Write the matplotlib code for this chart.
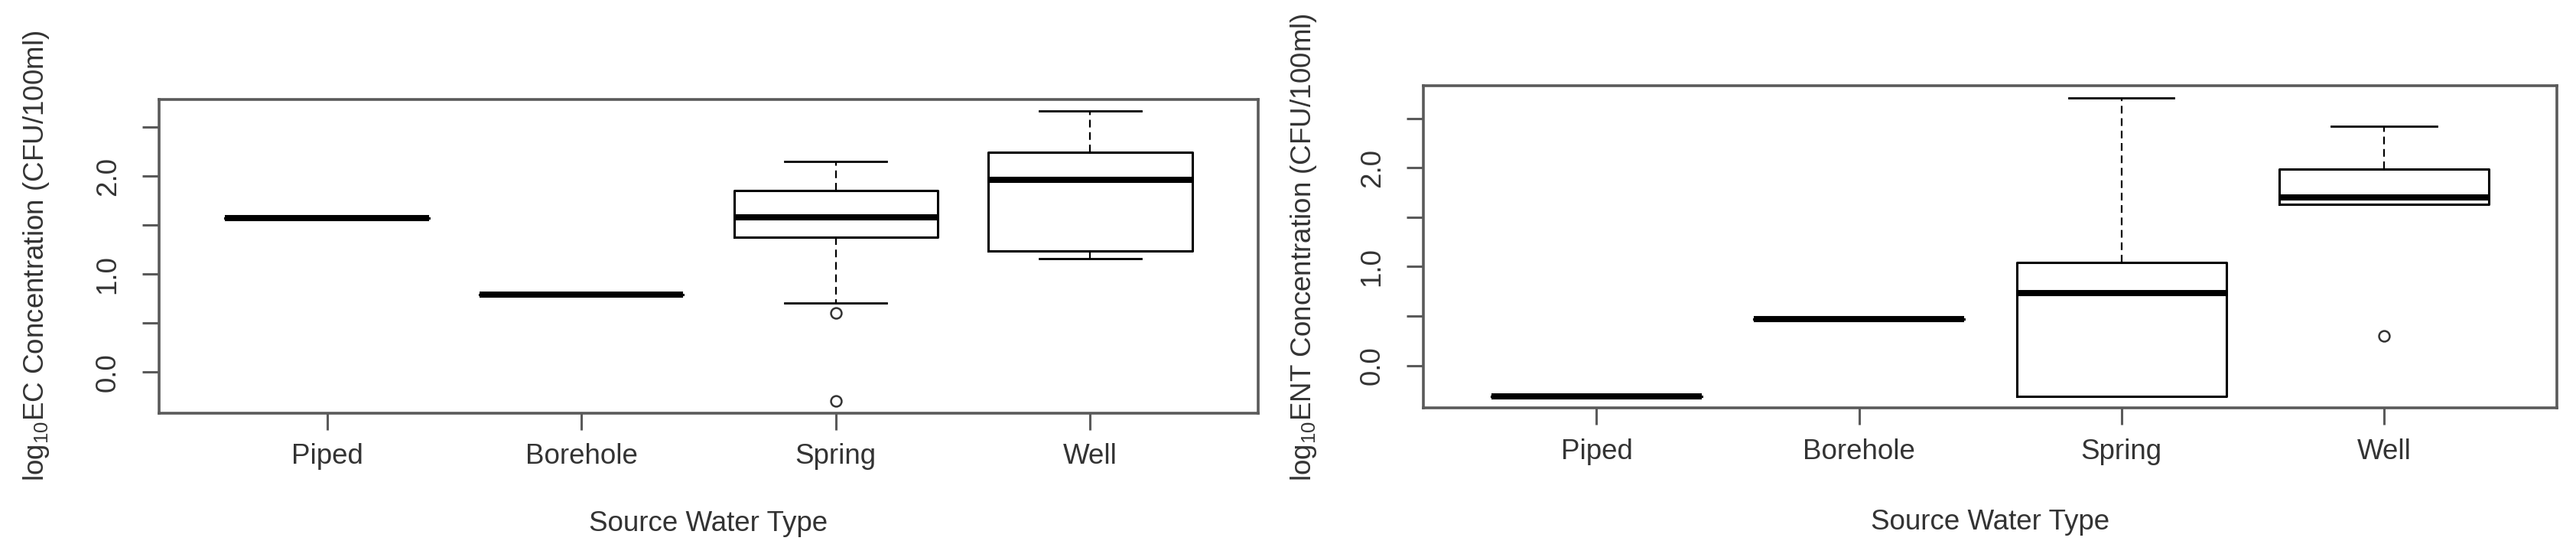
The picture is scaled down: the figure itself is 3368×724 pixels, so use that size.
import matplotlib
matplotlib.use('Agg')
import matplotlib.pyplot as plt

plt.rcParams['font.family'] = ['Liberation Sans', 'DejaVu Sans']
plt.rcParams['mathtext.default'] = 'regular'

categories = ['Piped', 'Borehole', 'Spring', 'Well']

# log10 E. coli (EC) concentration, CFU/100ml
ec_whislo = [1.574, 0.788, 0.705, 1.161]
ec_q1 = [1.574, 0.788, 1.374, 1.236]
ec_med = [1.574, 0.788, 1.582, 1.965]
ec_q3 = [1.574, 0.788, 1.855, 2.246]
ec_whishi = [1.574, 0.788, 2.147, 2.667]
ec_fliers = [[], [], [0.606, -0.297], []]

# log10 Enterococci (ENT) concentration, CFU/100ml
ent_whislo = [-0.31, 0.472, -0.31, 1.632]
ent_q1 = [-0.31, 0.472, -0.31, 1.632]
ent_med = [-0.31, 0.472, 0.729, 1.701]
ent_q3 = [-0.31, 0.472, 1.039, 1.985]
ent_whishi = [-0.31, 0.472, 2.707, 2.418]
ent_fliers = [[], [], [], [0.302]]

ytick_vals = [0.0, 0.5, 1.0, 1.5, 2.0, 2.5]
ytick_labels = ['0.0', '', '1.0', '', '2.0', '']
xlabel = 'Source Water Type'
ylabel_ec = 'log$_{10}$EC Concentration (CFU/100ml)'
ylabel_ent = 'log$_{10}$ENT Concentration (CFU/100ml)'

W, H = 3368, 724
fig = plt.figure(figsize=(W / 100, H / 100), dpi=100)

SPINE = '#5a5a5a'
TXT = '#333333'
FS = 26.5


def panel(rect, whislo, q1, med, q3, whishi, fliers, ylabel, ylab_x, xlab_y):
    ax = fig.add_axes(rect)
    stats = []
    for i, name in enumerate(categories):
        stats.append(dict(label=name, whislo=whislo[i], q1=q1[i], med=med[i],
                          q3=q3[i], whishi=whishi[i], fliers=fliers[i]))
    pos = list(range(1, len(categories) + 1))
    ax.bxp(stats, positions=pos, widths=0.8, capwidths=0.4,
           manage_ticks=False, showfliers=True,
           boxprops=dict(color='black', lw=2.2),
           medianprops=dict(color='black', lw=5.8, solid_capstyle='butt'),
           whiskerprops=dict(color='black', lw=1.6, linestyle=(0, (4.5, 2.8))),
           capprops=dict(color='black', lw=2.0),
           flierprops=dict(marker='o', markerfacecolor='none',
                           markeredgecolor='#333333', markersize=10,
                           markeredgewidth=1.8, linestyle='none'))
    # R-style axis ranges (4% padding)
    n = len(categories)
    ax.set_xlim(0.5 - 0.04 * n, n + 0.5 + 0.04 * n)
    allv = list(whislo) + list(whishi) + [v for f in fliers for v in f]
    lo, hi = min(allv), max(allv)
    pad = 0.04 * (hi - lo)
    ax.set_ylim(lo - pad, hi + pad)

    ax.set_xticks(pos)
    ax.set_xticklabels(categories, fontsize=FS, color=TXT)
    ax.set_yticks(ytick_vals)
    ax.set_yticklabels(ytick_labels, fontsize=FS, color=TXT, rotation=90,
                       va='center')
    ax.tick_params(axis='both', length=15.5, width=2.2, color=SPINE,
                   direction='out')
    ax.tick_params(axis='x', pad=13)
    ax.tick_params(axis='y', pad=20)
    for sp in ax.spines.values():
        sp.set_color(SPINE)
        sp.set_linewidth(2.6)

    ax.set_xlabel(xlabel, fontsize=FS, color=TXT)
    ax.xaxis.label.set_va('center')
    ax.xaxis.set_label_coords(0.5, xlab_y)
    ax.set_ylabel(ylabel, fontsize=FS, color=TXT)
    ax.yaxis.label.set_va('center')
    ax.yaxis.set_label_coords(ylab_x, 0.5)
    return ax


# left panel: x 208..1645, y 129.5..539.5
panel([208 / W, 1 - 539.5 / H, 1437 / W, 410 / H],
      ec_whislo, ec_q1, ec_med, ec_q3, ec_whishi, ec_fliers,
      ylabel_ec, (48 - 208) / 1437, -(685 - 539.5) / 410)

# right panel: x 1861..3343, y 112.3..533.3
panel([1861 / W, 1 - 533.3 / H, 1482.4 / W, 421 / H],
      ent_whislo, ent_q1, ent_med, ent_q3, ent_whishi, ent_fliers,
      ylabel_ent, (1705 - 1861) / 1482.4, -(683 - 533.3) / 421)

fig.savefig('out.png', dpi=100, facecolor='white')
